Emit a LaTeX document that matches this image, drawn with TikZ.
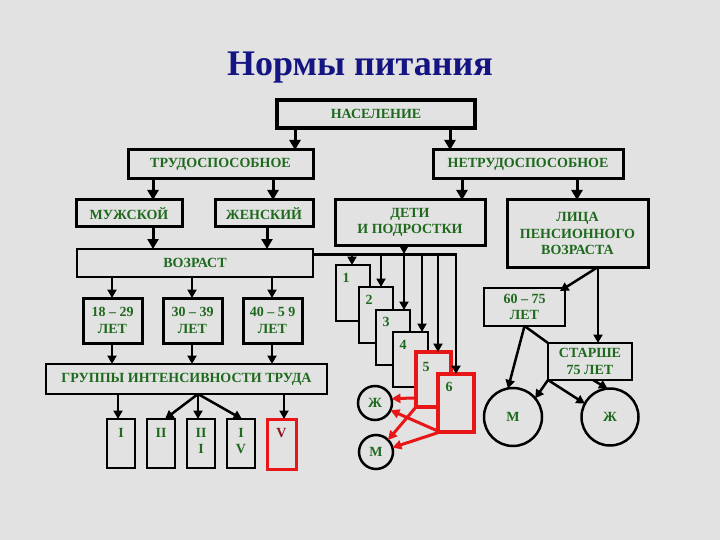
\documentclass[tikz,border=0pt]{standalone}
\usepackage{fontspec}
\setmainfont{Liberation Serif}
\usetikzlibrary{arrows.meta}
\definecolor{bg}{RGB}{226,226,226}
\definecolor{txt}{RGB}{30,105,30}
\definecolor{navy}{RGB}{20,20,130}
\definecolor{redb}{RGB}{232,22,22}
\definecolor{redt}{RGB}{140,20,30}
\begin{document}
\begin{tikzpicture}[x=1pt,y=-1pt,
  box/.style={draw=black,fill=bg,line width=3pt,inner sep=0pt,outer sep=0pt,align=center,
    font=\bfseries\fontsize{14}{16.5}\selectfont,text=txt},
  thinbox/.style={box,line width=2pt},
  redbox/.style={box,draw=redb,line width=4pt},
  circ/.style={circle,draw=black,fill=bg,line width=2.5pt,inner sep=0pt,outer sep=0pt,
    font=\bfseries\fontsize{14}{15}\selectfont,text=txt},
  lab/.style={inner sep=0pt,align=center,font=\bfseries\fontsize{14}{16}\selectfont,text=txt},
  arr/.style={line width=3pt,-{Triangle[length=10pt,width=11pt]}},
  arrs/.style={line width=2.5pt,-{Triangle[length=8.5pt,width=9pt]}},
  rarr/.style={draw=redb,line width=3pt,-{Triangle[length=9pt,width=9pt]}},
  bus/.style={line width=3pt}]
\fill[bg] (0,0) rectangle (720,540);
\useasboundingbox (0,0) rectangle (720,540);

\node[font=\bfseries\fontsize{36}{40}\selectfont,text=navy,anchor=base] (title) at (360,76) {Нормы питания};

% top level
\node[box,line width=4pt,minimum width=198,minimum height=28] (nas) at (376,114) {НАСЕЛЕНИЕ};
\node[box,minimum width=185,minimum height=29] (trud) at (220.5,164.5) {ТРУДОСПОСОБНОЕ};
\node[box,minimum width=190,minimum height=29] (netrud) at (528,164.5) {НЕТРУДОСПОСОБНОЕ};
\node[box,minimum width=106,minimum height=27] (muzh) at (129,213.5) {МУЖСКОЙ};
\node[box,minimum width=98,minimum height=27] (zhen) at (264,213.5) {ЖЕНСКИЙ};
\node[box,minimum width=150,minimum height=45] (deti) at (410,222.5) {ДЕТИ\\И ПОДРОСТКИ};
\node[box,minimum width=141,minimum height=67] (lica) at (577.5,233.5) {ЛИЦА\\ПЕНСИОННОГО\\ВОЗРАСТА};
\node[thinbox,minimum width=236,minimum height=28] (vozr) at (195,263) {ВОЗРАСТ};

% ages
\node[box,minimum width=59,minimum height=45] (a1) at (112.5,320.5) {18 – 29\\ЛЕТ};
\node[box,minimum width=59,minimum height=45] (a2) at (192.5,320.5) {30 – 39\\ЛЕТ};
\node[box,minimum width=59,minimum height=45] (a3) at (272.5,320.5) {40 – 5 9\\ЛЕТ};
\node[thinbox,minimum width=281,minimum height=30] (grp) at (186.5,379) {ГРУППЫ ИНТЕНСИВНОСТИ ТРУДА};

% roman groups
\node[thinbox,line width=2.5pt,minimum width=28,minimum height=49] (r1) at (121,443.5) {};
\node[thinbox,line width=2.5pt,minimum width=28,minimum height=49] (r2) at (161,443.5) {};
\node[thinbox,line width=2.5pt,minimum width=28,minimum height=49] (r3) at (201,443.5) {};
\node[thinbox,line width=2.5pt,minimum width=28,minimum height=49] (r4) at (241,443.5) {};
\node[thinbox,draw=redb,line width=3pt,minimum width=29,minimum height=50] (r5) at (281.5,444) {};
\node[lab,anchor=north] (t1) at ([yshift=-9pt]r1.north) {I};
\node[lab,anchor=north] (t2) at ([yshift=-9pt]r2.north) {II};
\node[lab,anchor=north] (t3) at ([yshift=-9pt]r3.north) {II\\I};
\node[lab,anchor=north] (t4) at ([yshift=-9pt]r4.north) {I\\V};
\node[lab,anchor=north,text=redt] (t5) at ([yshift=-9pt]r5.north) {V};

% children groups
\node[thinbox,minimum width=34,minimum height=56] (b1) at (353,293) {};
\node[thinbox,minimum width=34,minimum height=56] (b2) at (376,315) {};
\node[thinbox,minimum width=34,minimum height=55] (b3) at (393,337.5) {};
\node[thinbox,minimum width=35,minimum height=55] (b4) at (410.5,359.5) {};
\node[redbox,minimum width=35,minimum height=55] (b5) at (433.5,379.5) {};
\node[redbox,minimum width=36,minimum height=58] (b6) at (456,403) {};
\node[lab] (n1) at ([xshift=10pt,yshift=-13pt]b1.north west) {1};
\node[lab] (n2) at ([xshift=10pt,yshift=-13pt]b2.north west) {2};
\node[lab] (n3) at ([xshift=10pt,yshift=-12pt]b3.north west) {3};
\node[lab] (n4) at ([xshift=10pt,yshift=-13pt]b4.north west) {4};
\node[lab] (n5) at ([xshift=10pt,yshift=-15pt]b5.north west) {5};
\node[lab] (n6) at ([xshift=11pt,yshift=-13pt]b6.north west) {6};
\node[circ,minimum size=34] (cz) at (375,403) {Ж};
\node[circ,minimum size=34] (cm) at (376,452) {М};

% pensioners
\node[box,line width=2.5pt,minimum width=81,minimum height=38] (o60) at (524.5,307) {60 – 75\\ЛЕТ};
\node[box,line width=2.5pt,minimum width=84,minimum height=37] (st) at (590,361.5) {СТАРШЕ\\75 ЛЕТ};
\node[circ,minimum width=58,minimum height=54] (rm) at (513,417) {М};
\node[circ,minimum width=57,minimum height=54] (rz) at (610,417) {Ж};

% arrows top
\draw[arr] (295,0 |- nas.south) -- (295,0 |- trud.north);
\draw[arr] (450,0 |- nas.south) -- (450,0 |- netrud.north);
\draw[arr] (153,0 |- trud.south) -- (153,0 |- muzh.north);
\draw[arr] (273,0 |- trud.south) -- (273,0 |- zhen.north);
\draw[arr] (462,0 |- netrud.south) -- (462,0 |- deti.north);
\draw[arr] (577,0 |- netrud.south) -- (577,0 |- lica.north);
\draw[arr] (153,0 |- muzh.south) -- (153,0 |- vozr.north);
\draw[arr] (267,0 |- zhen.south) -- (267,0 |- vozr.north);

% ages
\draw[arrs] (112,0 |- vozr.south) -- (112,0 |- a1.north);
\draw[arrs] (192,0 |- vozr.south) -- (192,0 |- a2.north);
\draw[arrs] (272,0 |- vozr.south) -- (272,0 |- a3.north);
\draw[arrs] (112,0 |- a1.south) -- (112,0 |- grp.north);
\draw[arrs] (192,0 |- a2.south) -- (192,0 |- grp.north);
\draw[arrs] (272,0 |- a3.south) -- (272,0 |- grp.north);

% groups
\coordinate (fan) at (198,0 |- grp.south);
\draw[arrs] (118,0 |- grp.south) -- (118,0 |- r1.north);
\draw[arrs] (284,0 |- grp.south) -- (284,0 |- r5.north);
\draw[arrs] (fan) -- (165,0 |- r2.north);
\draw[arrs] (fan) -- (198,0 |- r3.north);
\draw[arrs] (fan) -- (242,0 |- r4.north);

% bus to children boxes
\coordinate (busL) at (vozr.east |- 0,254);
\coordinate (busR) at (457,254);
\draw[bus] (busL) -- (busR);
\draw[arrs] (404,0 |- deti.south) -- (404,0 |- busL);
\draw[arrs] (352,0 |- busL) -- (352,0 |- b1.north);
\draw[arrs] (381,0 |- busL) -- (381,0 |- b2.north);
\draw[arrs] (404,0 |- busL) -- (404,0 |- b3.north);
\draw[arrs] (422,0 |- busL) -- (422,0 |- b4.north);
\draw[arrs] (438,0 |- busL) -- (438,0 |- b5.north);
\draw[arrs] (456,0 |- busR) -- (456,0 |- b6.north);

% red arrows
\draw[rarr] (b5.west |- 0,398) -- (cz.15);
\draw[rarr] (b5.south west) -- (cm.45);
\draw[rarr] ([xshift=2pt]b6.south west) -- (cz.-25);
\draw[rarr] ([xshift=2pt]b6.south west) -- (cm.15);

% pensioners arrows
\draw[arrs] (598,0 |- lica.south) -- ([xshift=-5pt,yshift=-3pt]o60.north east);
\draw[arrs] (598,0 |- lica.south) -- (598,0 |- st.north);
\draw[arrs] (o60.south) -- (rm.100);
\draw[line width=2.5pt] (o60.south) -- (st.north west);
\draw[arrs] (st.south west) -- (rm.40);
\draw[arrs] (st.south west) -- (rz.152);
\draw[arrs] (593,0 |- st.south) -- (rz.95);
\end{tikzpicture}
\end{document}
